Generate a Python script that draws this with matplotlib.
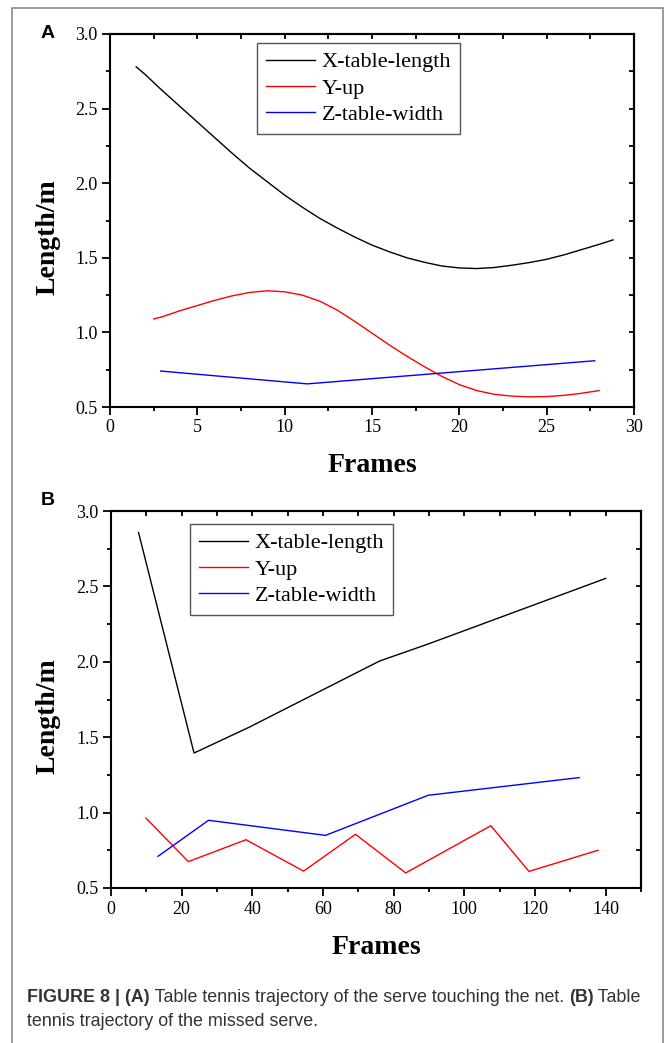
import numpy as np
import matplotlib
matplotlib.use("Agg")
import matplotlib.pyplot as plt
from matplotlib.ticker import MultipleLocator
from matplotlib.patches import Rectangle

plt.rcParams['font.family'] = ['Liberation Serif', 'DejaVu Serif']

# panel A - serve touching the net
a_x_frames = [1.5, 2, 3, 4, 5, 6, 7, 8, 9, 10, 11, 12, 13, 14, 15, 16, 17, 18, 19, 20, 21, 22, 23, 24, 25, 26, 27, 28, 28.8]
a_x_len = [2.78, 2.73, 2.62, 2.515, 2.41, 2.305, 2.20, 2.10, 2.01, 1.92, 1.84, 1.765, 1.70, 1.64, 1.585,
           1.54, 1.50, 1.47, 1.445, 1.432, 1.428, 1.435, 1.45, 1.468, 1.49, 1.52, 1.555, 1.59, 1.62]
a_y_frames = [2.5, 3, 4, 5, 6, 7, 8, 9, 10, 11, 12, 13, 14, 15, 16, 17, 18, 19, 20, 21, 22, 23, 24, 25, 26, 27, 28]
a_y_up = [1.09, 1.105, 1.145, 1.18, 1.215, 1.245, 1.268, 1.279, 1.272, 1.25, 1.21, 1.15, 1.075, 0.995,
          0.915, 0.84, 0.77, 0.705, 0.65, 0.61, 0.585, 0.573, 0.568, 0.57, 0.578, 0.592, 0.61]
a_z_frames = [2.9, 11.3, 27.75]
a_z_width = [0.741, 0.655, 0.81]

# panel B - missed serve
b_x_frames = [7.8, 23.5, 39, 76, 90, 140]
b_x_len = [2.857, 1.395, 1.565, 2.005, 2.12, 2.553]
b_y_frames = [9.9, 21.9, 38.2, 54.5, 69.2, 83.4, 107.5, 118.3, 137.8]
b_y_up = [0.963, 0.675, 0.82, 0.612, 0.856, 0.60, 0.913, 0.61, 0.75]
b_z_frames = [13.3, 27.6, 60.7, 89.8, 132.5]
b_z_width = [0.71, 0.949, 0.849, 1.115, 1.232]

names = ["X-table-length", "Y-up", "Z-table-width"]
colors = ["black", "red", "blue"]

W, H = 668, 1043
fig = plt.figure(figsize=(W/100, H/100), dpi=100)

def fx(px):
    return px / W

def fy(py):
    return 1 - py / H

# outer frame
fig.add_artist(Rectangle((fx(12), fy(1060)), fx(663) - fx(12), fy(8) - fy(1060),
                         transform=fig.transFigure, fill=False, edgecolor="#8a8a8a", lw=1.2))

def make_panel(box, xs, ys, xmax, xmajor, xminor, leg_anchor, letter, letter_pos):
    l, t, r, b = box
    ax = fig.add_axes([fx(l), fy(b), fx(r) - fx(l), fy(t) - fy(b)])
    for (xx, yy), c, n in zip(zip(xs, ys), colors, names):
        ax.plot(xx, yy, color=c, lw=1.0, label=n)
    ax.set_xlim(0, xmax)
    ax.set_ylim(0.5, 3.0)
    ax.xaxis.set_major_locator(MultipleLocator(xmajor))
    ax.xaxis.set_minor_locator(MultipleLocator(xminor))
    ax.yaxis.set_major_locator(MultipleLocator(0.5))
    ax.yaxis.set_minor_locator(MultipleLocator(0.25))
    ax.yaxis.set_major_formatter(lambda v, p: f"{v:.1f}")
    ax.tick_params(which='both', direction='out', width=1.3, labelsize=13, pad=3.5)
    ax.tick_params(which='major', length=5.5)
    ax.tick_params(which='minor', length=3)
    for s in ax.spines.values():
        s.set_linewidth(1.5)
    # mirrored ticks pointing inward
    top = ax.secondary_xaxis('top')
    top.xaxis.set_major_locator(MultipleLocator(xminor))
    top.tick_params(direction='in', length=3.6, width=1.3, labeltop=False)
    right = ax.secondary_yaxis('right')
    right.yaxis.set_major_locator(MultipleLocator(0.25))
    right.tick_params(direction='in', length=3.6, width=1.3, labelright=False)
    for sa in (top, right):
        for s in sa.spines.values():
            s.set_linewidth(1.5)

    ax.set_xlabel("Frames", fontsize=20, fontweight='bold', va='center')
    ax.set_ylabel("Length/m", fontsize=20, fontweight='bold', va='center')
    ax.xaxis.set_label_coords(0.5, -59 / (b - t))
    ax.yaxis.set_label_coords((48 - l) / (r - l), 0.455)

    leg = ax.legend(loc='upper left', bbox_to_anchor=((leg_anchor[0] - l) / (r - l), (b - leg_anchor[1]) / (b - t)),
                    borderaxespad=0, fancybox=False, framealpha=1, edgecolor="#555555",
                    fontsize=16, handlelength=2.2, handletextpad=0.3, labelspacing=0.25,
                    borderpad=0.4)
    leg.get_frame().set_linewidth(1.0)
    fig.text(fx(letter_pos[0]), fy(letter_pos[1]), letter, family=['Liberation Sans'],
             fontweight='bold', fontsize=14, ha='center', va='center')
    return ax

make_panel((110, 34, 634, 407), [a_x_frames, a_y_frames, a_z_frames], [a_x_len, a_y_up, a_z_width],
           30, 5, 2.5, (257, 43), "A", (48, 34))
make_panel((111, 511, 641, 888), [b_x_frames, b_y_frames, b_z_frames], [b_x_len, b_y_up, b_z_width],
           150, 20, 10, (190, 524), "B", (48, 501))

# caption with mixed bold / regular pieces
renderer = fig.canvas.get_renderer()
def caption_line(pieces, x0, y0):
    x = x0
    for txt, bold in pieces:
        t = fig.text(fx(x), fy(y0), txt, family=['Liberation Sans'], fontsize=12.85,
                     fontweight='bold' if bold else 'normal', color="#333333",
                     ha='left', va='center')
        bb = t.get_window_extent(renderer=renderer)
        x += bb.width

caption_line([("FIGURE 8 | (A)", True), (" Table tennis trajectory of the serve touching the net. ", False),
              ("(B)", True), (" Table", False)], 27, 998)
caption_line([("tennis trajectory of the missed serve.", False)], 27, 1022)

fig.savefig("out.png", dpi=100)
